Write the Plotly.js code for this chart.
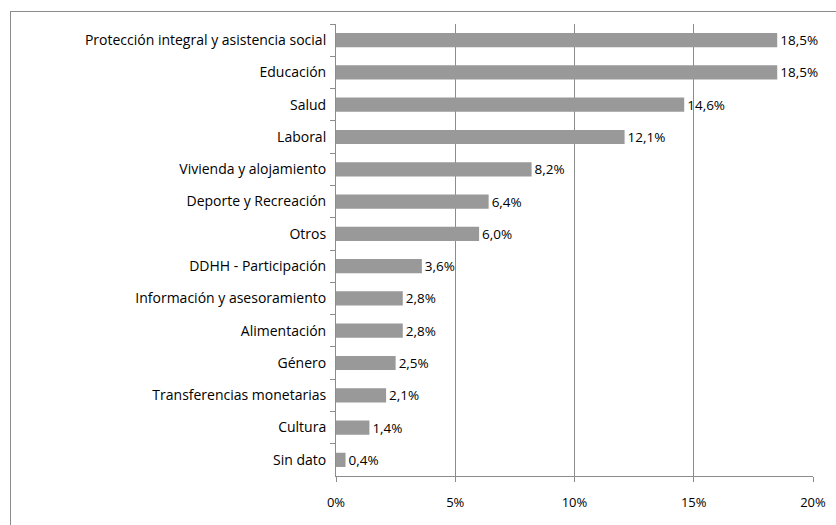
<!DOCTYPE html>
<html>
<head>
<meta charset="utf-8">
<script src="https://cdn.plot.ly/plotly-3.0.1.min.js"></script>
<style>
html,body{margin:0;padding:0;background:#fff;}
#wrap{position:relative;width:836px;height:525px;overflow:hidden;}
#frame{position:absolute;left:10px;top:11px;width:900px;height:600px;border:1px solid #8c8c8c;box-sizing:border-box;}
#chart{position:absolute;left:0;top:0;width:836px;height:525px;}
</style>
</head>
<body>
<div id="wrap"><div id="frame"></div><div id="chart"></div></div>
<script>
const categories = [
  "Protección integral y asistencia social",
  "Educación",
  "Salud",
  "Laboral",
  "Vivienda y alojamiento",
  "Deporte y Recreación",
  "Otros",
  "DDHH - Participación",
  "Información y asesoramiento",
  "Alimentación",
  "Género",
  "Transferencias monetarias",
  "Cultura",
  "Sin dato"
];
const values = [18.5, 18.5, 14.6, 12.1, 8.2, 6.4, 6.0, 3.6, 2.8, 2.8, 2.5, 2.1, 1.4, 0.4];
const tickValues = [0, 5, 10, 15, 20];
const tickLabels = ["0%", "5%", "10%", "15%", "20%"];

const font = "Open Sans, Noto Sans, sans-serif";

const trace = {
  type: "bar",
  orientation: "h",
  y: categories,
  x: values,
  marker: {color: "#999999", line: {width: 0}},
  texttemplate: "%{x:.1f}%",
  textposition: "outside",
  constraintext: "none",
  textfont: {family: font, size: 13.5, color: "#000"},
  cliponaxis: false,
  hoverinfo: "none"
};

const layout = {
  width: 836,
  height: 525,
  paper_bgcolor: "rgba(0,0,0,0)",
  plot_bgcolor: "rgba(0,0,0,0)",
  separators: ",.",
  margin: {l: 336, r: 23, t: 24, b: 49},
  bargap: 0.56,
  showlegend: false,
  font: {family: font, size: 13, color: "#000"},
  xaxis: {
    range: [0, 20],
    tickvals: tickValues,
    ticktext: tickLabels,
    showgrid: true,
    gridcolor: "#8c8c8c",
    gridwidth: 1,
    zeroline: false,
    showline: true,
    linecolor: "#8c8c8c",
    ticks: "outside",
    ticklen: 5,
    tickcolor: "#8c8c8c",
    ticklabelstandoff: 9,
    tickfont: {family: font, size: 13, color: "#000"}
  },
  yaxis: {
    autorange: "reversed",
    showgrid: false,
    zeroline: false,
    showline: true,
    linecolor: "#8c8c8c",
    ticks: "outside",
    tickson: "boundaries",
    ticklen: 5,
    tickcolor: "#8c8c8c",
    ticklabelstandoff: 6,
    tickfont: {family: font, size: 14, color: "#000"}
  }
};

Plotly.newPlot("chart", [trace], layout, {displayModeBar: false, staticPlot: true});
</script>
</body>
</html>
